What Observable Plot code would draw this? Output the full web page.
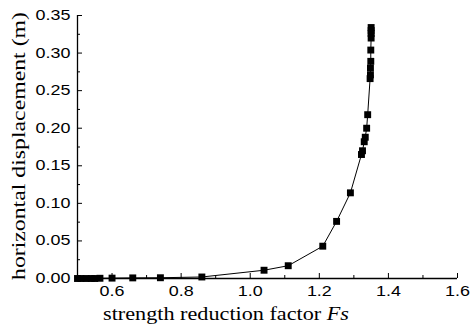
<!DOCTYPE html>
<html>
<head>
<meta charset="utf-8">
<script src="https://cdn.jsdelivr.net/npm/d3@7"></script>
<script src="https://cdn.jsdelivr.net/npm/@observablehq/plot@0.6"></script>
<style>
  html, body { margin: 0; padding: 0; background: #fff; }
  #chart svg { display: block; }
</style>
</head>
<body>
<div id="chart"></div>
<script>
// strength reduction factor Fs
const fs = [0.50, 0.51, 0.525, 0.54, 0.55, 0.565, 0.60, 0.66, 0.74, 0.86, 1.04, 1.11, 1.21, 1.25, 1.29,
            1.322, 1.325, 1.33, 1.333, 1.337, 1.340, 1.347, 1.348, 1.348, 1.349, 1.349, 1.350, 1.350, 1.350, 1.350];
// horizontal displacement (m)
const disp = [0.0, 0.0, 0.0, 0.0, 0.0, 0.0003, 0.0005, 0.0008, 0.001, 0.002, 0.011, 0.017, 0.043, 0.076, 0.114,
              0.165, 0.170, 0.182, 0.188, 0.200, 0.218, 0.266, 0.271, 0.280, 0.289, 0.304, 0.320, 0.326, 0.330, 0.334];

const xMajor = [0.6, 0.8, 1.0, 1.2, 1.4, 1.6];
const xMinor = [0.5, 0.7, 0.9, 1.1, 1.3, 1.5];
const yMajor = [0.00, 0.05, 0.10, 0.15, 0.20, 0.25, 0.30, 0.35];
const yMinor = [0.025, 0.075, 0.125, 0.175, 0.225, 0.275, 0.325];

const xTitle = "strength reduction factor ";
const xTitleItalic = "Fs";
const yTitle = "horizontal displacement (m)";

const data = fs.map((x, i) => ({x, y: disp[i]}));

const W = 476, H = 326;
const mL = 77, mR = 19, mT = 15, mB = 48;
const fw = W - mL - mR, fh = H - mT - mB;

const tickFont = "'Liberation Sans', Arial, sans-serif";
const titleFont = "'Liberation Serif', 'Times New Roman', serif";

const chart = Plot.plot({
  width: W, height: H,
  marginLeft: mL, marginRight: mR, marginTop: mT, marginBottom: mB,
  style: {background: "#fff", color: "#000"},
  x: {domain: [0.5, 1.6]},
  y: {domain: [0, 0.35]},
  marks: [
    // axis lines
    Plot.ruleY([0], {stroke: "#000", strokeWidth: 1.3}),
    Plot.ruleX([0.5], {stroke: "#000", strokeWidth: 1.3}),
    // inward ticks
    Plot.ruleX(xMajor, {stroke: "#000", insetTop: fh - 5}),
    Plot.ruleX(xMinor, {stroke: "#000", insetTop: fh - 3}),
    Plot.ruleY(yMajor, {stroke: "#000", insetRight: fw - 5}),
    Plot.ruleY(yMinor, {stroke: "#000", insetRight: fw - 3}),
    // tick labels
    Plot.axisX(xMajor, {tickSize: 0, tickPadding: 8, tickFormat: d3.format(".1f"), fontSize: 14, fontFamily: tickFont, label: null}),
    Plot.axisY(yMajor, {tickSize: 0, tickPadding: 7, tickFormat: d3.format(".2f"), fontSize: 14, fontFamily: tickFont, label: null}),
    // data
    Plot.line(data, {x: "x", y: "y", stroke: "#000", strokeWidth: 1}),
    Plot.dot(data, {x: "x", y: "y", symbol: "square", r: 3.9, fill: "#000", stroke: "none"})
  ]
});

document.getElementById("chart").appendChild(chart);
const svg = d3.select(chart);

// widen tick labels to match the reference's stretched lettering
svg.selectAll("g[aria-label='x-axis tick label'] text, g[aria-label='y-axis tick label'] text").each(function () {
  const len = this.getComputedTextLength();
  this.setAttribute("textLength", (len * 1.28).toFixed(1));
  this.setAttribute("lengthAdjust", "spacingAndGlyphs");
});

const xt = svg.append("text")
  .attr("x", 103).attr("y", 320)
  .attr("text-anchor", "start")
  .attr("font-family", titleFont).attr("font-size", 18).attr("fill", "#000")
  .attr("textLength", 246).attr("lengthAdjust", "spacingAndGlyphs");
xt.append("tspan").text(xTitle);
xt.append("tspan").attr("font-style", "italic").text(xTitleItalic);

svg.append("text")
  .attr("transform", `translate(25, 146) rotate(-90)`)
  .attr("text-anchor", "middle")
  .attr("font-family", titleFont).attr("font-size", 18).attr("fill", "#000")
  .attr("textLength", 268).attr("lengthAdjust", "spacingAndGlyphs")
  .text(yTitle);
</script>
</body>
</html>
